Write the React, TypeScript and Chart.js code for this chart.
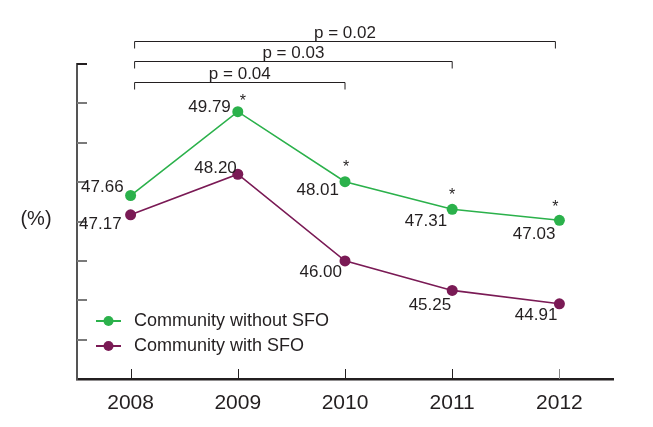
import React, { useEffect, useRef } from "react";
import { Chart, registerables } from "chart.js";

Chart.register(...registerables);

const years = ["2008", "2009", "2010", "2011", "2012"];
const withoutSFO = [47.66, 49.79, 48.01, 47.31, 47.03];
const withSFO = [47.17, 48.2, 46.0, 45.25, 44.91];
const significant = [false, true, true, true, true];
const seriesNames = ["Community without SFO", "Community with SFO"];
const pBrackets = [
  { from: 0, to: 4, label: "p = 0.02" },
  { from: 0, to: 3, label: "p = 0.03" },
  { from: 0, to: 2, label: "p = 0.04" },
];
const yMin = 43;
const yMax = 51;

const GREEN = "#2bb14b";
const PURPLE = "#7a1a55";
const TEXT = "#231f20";
const FONT = "'Liberation Sans', Arial, sans-serif";

// label offsets (style only): [dx, dy] relative to point, right-aligned
const greenLabelPos = [
  [-7, -8],
  [-7, -4],
  [-6, 9],
  [-5, 12],
  [-4, 14],
];
const purpleLabelPos = [
  [-9, 10],
  [-1, -6],
  [-3, 11],
  [-1, 15],
  [-2, 12],
];
const starPos = [
  [0, 0],
  [5, -13],
  [1, -17],
  [0, -17],
  [-4, -16],
];

const overlayPlugin = {
  id: "overlay",
  afterDraw(chart: any) {
    const ctx = chart.ctx;
    const xs = chart.scales.x;
    const ys = chart.scales.y;
    const area = chart.chartArea;
    ctx.save();

    // inner y ticks
    for (let v = yMin + 1; v <= yMax; v++) {
      const y = Math.round(ys.getPixelForValue(v));
      ctx.strokeStyle = v === yMax ? TEXT : "#7a7a7a";
      ctx.lineWidth = 2;
      ctx.beginPath();
      ctx.moveTo(area.left, y);
      ctx.lineTo(area.left + 10, y);
      ctx.stroke();
    }
    // inner x ticks
    years.forEach((_, i) => {
      const x = Math.round(xs.getPixelForValue(i)) + 0.5;
      ctx.strokeStyle = i === 4 ? "#888" : TEXT;
      ctx.lineWidth = 1;
      ctx.beginPath();
      ctx.moveTo(x, area.bottom - 10);
      ctx.lineTo(x, area.bottom);
      ctx.stroke();
    });

    // value labels
    ctx.font = `17px ${FONT}`;
    ctx.fillStyle = TEXT;
    ctx.textAlign = "right";
    ctx.textBaseline = "middle";
    const m0 = chart.getDatasetMeta(0).data;
    const m1 = chart.getDatasetMeta(1).data;
    withoutSFO.forEach((v, i) => {
      const p = m0[i];
      ctx.fillText(v.toFixed(2), p.x + greenLabelPos[i][0], p.y + greenLabelPos[i][1]);
    });
    withSFO.forEach((v, i) => {
      const p = m1[i];
      ctx.fillText(v.toFixed(2), p.x + purpleLabelPos[i][0], p.y + purpleLabelPos[i][1]);
    });
    // stars
    ctx.textAlign = "center";
    ctx.font = `16px ${FONT}`;
    significant.forEach((s, i) => {
      if (!s) return;
      const p = m0[i];
      ctx.fillText("*", p.x + starPos[i][0], p.y + starPos[i][1] + 3);
    });

    // p-value brackets
    const bracketY = [41, 61, 82];
    pBrackets.forEach((b, k) => {
      const x1 = xs.getPixelForValue(b.from) + 4;
      const x2 = xs.getPixelForValue(b.to) - (b.to === 4 ? 4 : 0);
      const y = bracketY[k] + 0.5;
      ctx.strokeStyle = TEXT;
      ctx.lineWidth = 1;
      ctx.beginPath();
      ctx.moveTo(x1, y + 7);
      ctx.lineTo(x1, y);
      ctx.lineTo(x2, y);
      ctx.lineTo(x2, y + 7);
      ctx.stroke();
      ctx.font = `17px ${FONT}`;
      ctx.textAlign = "center";
      ctx.textBaseline = "alphabetic";
      ctx.fillText(b.label, (x1 + x2) / 2, y - 4);
    });

    // y axis title
    ctx.font = `20px ${FONT}`;
    ctx.textAlign = "center";
    ctx.textBaseline = "middle";
    ctx.fillText("(%)", 36, 219);

    // legend
    const legendColors = [GREEN, PURPLE];
    const legendY = [321, 346];
    seriesNames.forEach((name, i) => {
      const y = legendY[i];
      ctx.strokeStyle = legendColors[i];
      ctx.lineWidth = 2;
      ctx.beginPath();
      ctx.moveTo(96, y);
      ctx.lineTo(121, y);
      ctx.stroke();
      ctx.fillStyle = legendColors[i];
      ctx.beginPath();
      ctx.arc(108.5, y, 5, 0, Math.PI * 2);
      ctx.fill();
      ctx.fillStyle = TEXT;
      ctx.font = `18px ${FONT}`;
      ctx.textAlign = "left";
      ctx.textBaseline = "middle";
      ctx.fillText(name, 134, y);
    });

    ctx.restore();
  },
};

export default function App() {
  const ref = useRef<HTMLCanvasElement>(null);
  useEffect(() => {
    if (!ref.current) return;
    const chart = new Chart(ref.current, {
      type: "line",
      data: {
        labels: years,
        datasets: [
          {
            label: seriesNames[0],
            data: withoutSFO,
            borderColor: GREEN,
            backgroundColor: GREEN,
            borderWidth: 1.6,
            pointRadius: 5.5,
            pointBorderWidth: 0,
            tension: 0,
          },
          {
            label: seriesNames[1],
            data: withSFO,
            borderColor: PURPLE,
            backgroundColor: PURPLE,
            borderWidth: 1.6,
            pointRadius: 5.5,
            pointBorderWidth: 0,
            tension: 0,
          },
        ],
      },
      options: {
        responsive: false,
        animation: false,
        layout: { padding: { left: 77, right: 40, top: 64, bottom: 0 } },
        plugins: { legend: { display: false }, tooltip: { enabled: false } },
        scales: {
          x: {
            type: "category",
            offset: true,
            grid: { display: false, drawTicks: false },
            border: { display: true, color: TEXT, width: 2.5 },
            ticks: {
              color: TEXT,
              font: { family: FONT, size: 21 },
              padding: 12,
              maxRotation: 0,
            },
            afterFit: (s: any) => {
              s.height = 48;
            },
          },
          y: {
            min: yMin,
            max: yMax,
            grid: { display: false, drawTicks: false },
            border: { display: true, color: "#555", width: 2 },
            ticks: { display: false, stepSize: 1 },
            afterFit: (s: any) => {
              s.width = 0;
            },
          },
        },
      },
      plugins: [overlayPlugin],
    } as any);
    return () => chart.destroy();
  }, []);
  return (
    <div style={{ position: "fixed", left: 0, top: 0, width: 653, height: 427, background: "#fff" }}>
      <canvas ref={ref} width={653} height={427} />
    </div>
  );
}
